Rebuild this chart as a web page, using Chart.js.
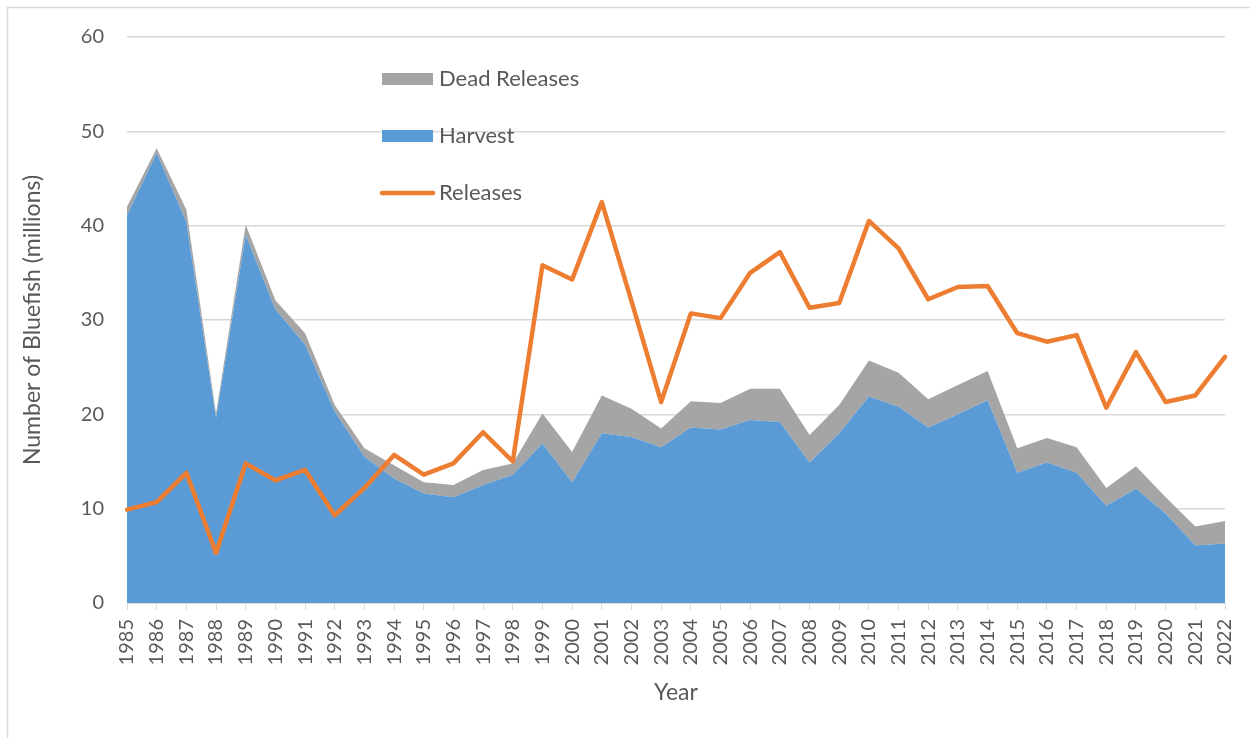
<!DOCTYPE html>
<html lang="en">
<head>
    <meta charset="UTF-8">
    <title>Bluefish Harvest and Releases</title>
    <script src="https://cdn.jsdelivr.net/npm/chart.js"></script>
    <style>
        body {
            margin: 0;
            background: #fff;
        }
        #wrap {
            width: 1250px;
            height: 738px;
            position: relative;
        }
    </style>
</head>
<body>
    <div id="wrap"><canvas id="myChart"></canvas></div>

    <script>
        // values (millions of fish)
        const years = ['1985','1986','1987','1988','1989','1990','1991','1992','1993','1994',
                       '1995','1996','1997','1998','1999','2000','2001','2002','2003','2004',
                       '2005','2006','2007','2008','2009','2010','2011','2012','2013','2014',
                       '2015','2016','2017','2018','2019','2020','2021','2022'];
        const harvest = [41.1, 47.7, 40.4, 19.6, 39.0, 31.1, 27.4, 20.3, 15.5, 13.2,
                         11.6, 11.2, 12.5, 13.6, 16.9, 12.8, 18.0, 17.6, 16.5, 18.6,
                         18.4, 19.4, 19.2, 14.9, 18.0, 21.9, 20.8, 18.6, 20.0, 21.5,
                         13.8, 14.9, 13.8, 10.3, 12.1, 9.5, 6.1, 6.3];
        const deadReleases = [0.9, 0.5, 1.3, 0.5, 1.1, 1.0, 1.2, 0.7, 0.9, 1.4,
                              1.2, 1.3, 1.6, 1.2, 3.2, 3.2, 4.0, 3.0, 2.0, 2.8,
                              2.8, 3.3, 3.5, 2.9, 3.0, 3.8, 3.6, 3.0, 3.1, 3.1,
                              2.6, 2.6, 2.7, 1.9, 2.4, 1.7, 2.0, 2.4];
        const releases = [9.9, 10.7, 13.8, 5.3, 14.8, 13.0, 14.1, 9.3, 12.2, 15.7,
                          13.6, 14.8, 18.1, 15.0, 35.8, 34.3, 42.5, 32.0, 21.3, 30.7,
                          30.2, 35.0, 37.2, 31.3, 31.8, 40.5, 37.6, 32.2, 33.5, 33.6,
                          28.6, 27.7, 28.4, 20.7, 26.6, 21.3, 22.0, 26.1];

        const BLUE = '#5b9bd5', GREY = '#a5a5a5', ORANGE = '#ed7d31';
        const TEXT = '#595959', GRID = '#d9d9d9';
        const FONT = 'Lato, "Open Sans", sans-serif';

        // outer frame + legend drawn by hand, Excel style
        const excelDecor = {
            id: 'excelDecor',
            beforeDraw(chart) {
                const c = chart.ctx;
                c.save();
                c.fillStyle = '#fff';
                c.fillRect(0, 0, chart.width, chart.height);
                c.strokeStyle = GRID;
                c.lineWidth = 1.5;
                c.strokeRect(7.5, 7.5, chart.width + 20, chart.height + 20);
                c.restore();
            },
            afterDraw(chart) {
                const c = chart.ctx;
                c.save();
                c.font = '22px ' + FONT;
                c.textBaseline = 'middle';
                // Dead Releases
                c.fillStyle = GREY;
                c.fillRect(382, 73, 51, 12);
                c.fillStyle = TEXT;
                c.fillText('Dead Releases', 439, 79);
                // Harvest
                c.fillStyle = BLUE;
                c.fillRect(382, 130, 51, 12);
                c.fillStyle = TEXT;
                c.fillText('Harvest', 439, 136);
                // Releases
                c.strokeStyle = ORANGE;
                c.lineWidth = 4.5;
                c.lineCap = 'round';
                c.beginPath();
                c.moveTo(382, 193);
                c.lineTo(433, 193);
                c.stroke();
                c.fillText('Releases', 439, 193);
                c.restore();
            }
        };

        let ctx = document.getElementById('myChart').getContext('2d');
        let chart = new Chart(ctx, {
            type: 'line',
            data: {
                labels: years,
                datasets: [{
                    label: 'Harvest',
                    data: harvest,
                    backgroundColor: BLUE,
                    borderColor: BLUE,
                    borderWidth: 0,
                    pointRadius: 0,
                    fill: 'origin',
                    stack: 'catch',
                    tension: 0
                },
                {
                    label: 'Dead Releases',
                    data: deadReleases,
                    backgroundColor: GREY,
                    borderColor: GREY,
                    borderWidth: 0,
                    pointRadius: 0,
                    fill: '-1',
                    stack: 'catch',
                    tension: 0
                },
                {
                    label: 'Releases',
                    data: releases,
                    borderColor: ORANGE,
                    backgroundColor: ORANGE,
                    borderWidth: 4.5,
                    borderJoinStyle: 'round',
                    borderCapStyle: 'round',
                    pointRadius: 0,
                    fill: false,
                    stack: 'rel',
                    order: -1,  // on top of the areas
                    tension: 0
                }]
            },
            options: {
                responsive: true,
                maintainAspectRatio: false,
                animation: false,
                layout: {
                    padding: { top: 37, right: 25, left: 0, bottom: 0 }
                },
                plugins: {
                    legend: { display: false },
                    tooltip: { enabled: false }
                },
                scales: {
                    x: {
                        offset: false,
                        afterFit: s => {
                            s.height = 135;
                            s.paddingLeft = 0;
                            s.paddingRight = 0;
                        },
                        grid: {
                            drawOnChartArea: false,
                            drawTicks: true,
                            tickLength: 7,
                            color: GRID
                        },
                        border: { color: GRID, width: 1 },
                        ticks: {
                            color: TEXT,
                            font: { family: FONT, size: 20 },
                            minRotation: 90,
                            maxRotation: 90,
                            autoSkip: false,
                            padding: 9
                        },
                        title: {
                            display: true,
                            text: 'Year',
                            color: TEXT,
                            font: { family: FONT, size: 23 },
                            padding: { top: 32, bottom: 32 }
                        }
                    },
                    y: {
                        stacked: true,
                        min: 0,
                        max: 60,
                        afterFit: s => { s.width = 127; },
                        grid: {
                            color: GRID,
                            drawTicks: false,
                            lineWidth: 1.5
                        },
                        border: { display: false },
                        ticks: {
                            stepSize: 10,
                            color: TEXT,
                            font: { family: FONT, size: 20 },
                            padding: 23
                        },
                        title: {
                            display: true,
                            text: 'Number of Bluefish (millions)',
                            color: TEXT,
                            font: { family: FONT, size: 23 },
                            padding: { top: 19, bottom: 19 }
                        }
                    }
                }
            },
            plugins: [excelDecor]
        });
    </script>
</body>
</html>
